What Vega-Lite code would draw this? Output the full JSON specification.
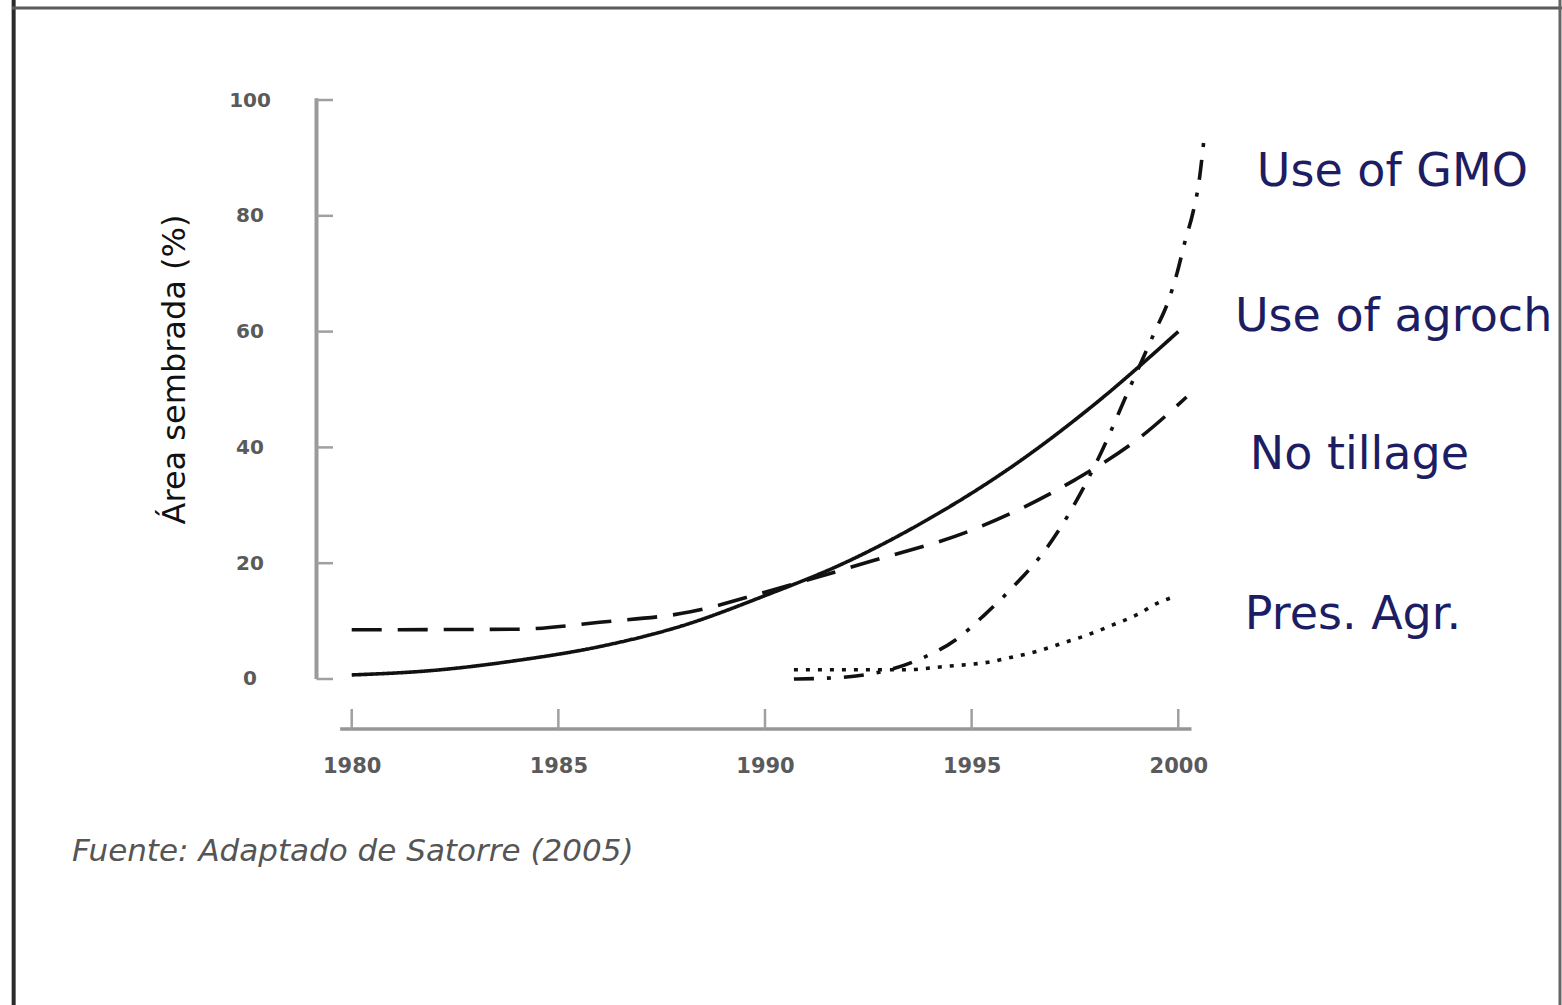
{
  "$schema": "https://vega.github.io/schema/vega-lite/v6.json",
  "width": 903.1,
  "height": 720,
  "autosize": {"type": "none"},
  "padding": {"left": 316.5, "top": 9, "right": 342.4, "bottom": 276},
  "background": "white",
  "config": {"view": {"stroke": null}},
  "datasets": {
    "curves": [
      {"series": "Use of agroch", "year": 1980, "value": 0.7},
      {"series": "Use of agroch", "year": 1982, "value": 1.5},
      {"series": "Use of agroch", "year": 1984, "value": 3.2},
      {"series": "Use of agroch", "year": 1986, "value": 5.6},
      {"series": "Use of agroch", "year": 1988, "value": 9.2},
      {"series": "Use of agroch", "year": 1990, "value": 14.4},
      {"series": "Use of agroch", "year": 1992, "value": 20.3},
      {"series": "Use of agroch", "year": 1994, "value": 27.8},
      {"series": "Use of agroch", "year": 1996, "value": 36.8},
      {"series": "Use of agroch", "year": 1998, "value": 47.6},
      {"series": "Use of agroch", "year": 2000, "value": 60.0},
      {"series": "No tillage", "year": 1980, "value": 8.5},
      {"series": "No tillage", "year": 1984, "value": 8.6},
      {"series": "No tillage", "year": 1986, "value": 9.8},
      {"series": "No tillage", "year": 1988.2, "value": 11.6},
      {"series": "No tillage", "year": 1990, "value": 15.0},
      {"series": "No tillage", "year": 1992.5, "value": 20.2},
      {"series": "No tillage", "year": 1995, "value": 25.7},
      {"series": "No tillage", "year": 1997.5, "value": 34.4},
      {"series": "No tillage", "year": 1999, "value": 41.3},
      {"series": "No tillage", "year": 2000.2, "value": 48.7},
      {"series": "Use of GMO", "year": 1990.7, "value": 0.0},
      {"series": "Use of GMO", "year": 1991.9, "value": 0.3},
      {"series": "Use of GMO", "year": 1993.7, "value": 3.3},
      {"series": "Use of GMO", "year": 1994.6, "value": 6.7},
      {"series": "Use of GMO", "year": 1995.3, "value": 11.0},
      {"series": "Use of GMO", "year": 1996.2, "value": 17.4},
      {"series": "Use of GMO", "year": 1996.6, "value": 20.6},
      {"series": "Use of GMO", "year": 1998.1, "value": 38.6},
      {"series": "Use of GMO", "year": 1998.8, "value": 49.9},
      {"series": "Use of GMO", "year": 1999.44, "value": 60.1},
      {"series": "Use of GMO", "year": 1999.75, "value": 65.1},
      {"series": "Use of GMO", "year": 1999.97, "value": 70.1},
      {"series": "Use of GMO", "year": 2000.16, "value": 75.5},
      {"series": "Use of GMO", "year": 2000.36, "value": 80.7},
      {"series": "Use of GMO", "year": 2000.5, "value": 85.8},
      {"series": "Use of GMO", "year": 2000.62, "value": 93.1},
      {"series": "Pres. Agr.", "year": 1990.7, "value": 1.6},
      {"series": "Pres. Agr.", "year": 1993.4, "value": 1.6},
      {"series": "Pres. Agr.", "year": 1994.4, "value": 2.2},
      {"series": "Pres. Agr.", "year": 1995.4, "value": 2.9},
      {"series": "Pres. Agr.", "year": 1996.0, "value": 3.8},
      {"series": "Pres. Agr.", "year": 1996.6, "value": 4.8},
      {"series": "Pres. Agr.", "year": 1997.2, "value": 6.2},
      {"series": "Pres. Agr.", "year": 1997.8, "value": 7.6},
      {"series": "Pres. Agr.", "year": 1998.4, "value": 9.3},
      {"series": "Pres. Agr.", "year": 1999.0, "value": 11.1},
      {"series": "Pres. Agr.", "year": 1999.5, "value": 13.1},
      {"series": "Pres. Agr.", "year": 1999.9, "value": 14.2}
    ],
    "labels": [
      {"label": "Use of GMO", "year": 2001.9, "value": 87.6},
      {"label": "Use of agroch", "year": 2001.37, "value": 62.6},
      {"label": "No tillage", "year": 2001.73, "value": 38.7},
      {"label": "Pres. Agr.", "year": 2001.61, "value": 11.1}
    ],
    "source": [
      {"text": "Fuente: Adaptado de Satorre (2005)", "year": 1973.23, "value": -29.9}
    ],
    "xticks": [{"year": 1980}, {"year": 1985}, {"year": 1990}, {"year": 1995}, {"year": 2000}],
    "yticks": [{"value": 0}, {"value": 20}, {"value": 40}, {"value": 60}, {"value": 80}, {"value": 100}]
  },
  "layer": [
    {
      "data": {"name": "curves"},
      "mark": {"type": "line", "interpolate": "monotone", "strokeWidth": 3.6, "color": "#111111", "strokeCap": "butt"},
      "encoding": {
        "x": {
          "field": "year", "type": "quantitative",
          "scale": {"domain": [1979.148, 2001], "nice": false, "zero": false},
          "axis": {
            "values": [1980, 1985, 1990, 1995, 2000], "format": "d",
            "domain": false, "ticks": false, "tickSize": 0, "grid": false,
            "labelFont": "DejaVu Sans", "labelFontSize": 21, "labelFontWeight": "bold", "labelColor": "#5a5a5a",
            "labelPadding": 37, "labelBaseline": "middle", "title": null
          }
        },
        "y": {
          "field": "value", "type": "quantitative",
          "scale": {"domain": [-8.636, 115.72], "nice": false, "zero": false},
          "axis": {
            "values": [0, 20, 40, 60, 80, 100],
            "domain": false, "ticks": false, "tickSize": 0, "grid": false,
            "labelFont": "DejaVu Sans", "labelFontSize": 20, "labelFontWeight": "bold", "labelColor": "#5a5a5a",
            "labelPadding": 67, "labelAlign": "center", "labelBaseline": "middle",
            "title": "Área sembrada (%)", "titleFont": "DejaVu Sans", "titleFontSize": 32,
            "titleFontWeight": "normal", "titleColor": "#111111", "titlePadding": 37
          }
        },
        "detail": {"field": "series"},
        "strokeDash": {
          "field": "series", "type": "nominal",
          "scale": {
            "domain": ["Use of agroch", "No tillage", "Use of GMO", "Pres. Agr."],
            "range": [[1, 0], [30, 16], [20, 13, 4, 13], [4, 8]]
          },
          "legend": null
        }
      }
    },
    {
      "data": {"values": [{}]},
      "mark": {"type": "rule", "color": "#9a9a9a", "strokeWidth": 4},
      "encoding": {
        "x": {"datum": 1979.148, "type": "quantitative", "scale": {"domain": [1979.148, 2001], "nice": false, "zero": false}},
        "y": {"datum": 0, "type": "quantitative", "scale": {"domain": [-8.636, 115.72], "nice": false, "zero": false}},
        "y2": {"datum": 100.3}
      }
    },
    {
      "data": {"values": [{}]},
      "mark": {"type": "rule", "color": "#969696", "strokeWidth": 3.5},
      "encoding": {
        "x": {"datum": 1979.72, "type": "quantitative", "scale": {"domain": [1979.148, 2001], "nice": false, "zero": false}},
        "x2": {"datum": 2000.32},
        "y": {"datum": -8.636, "type": "quantitative", "scale": {"domain": [-8.636, 115.72], "nice": false, "zero": false}}
      }
    },
    {
      "data": {"name": "yticks"},
      "mark": {"type": "rule", "color": "#a0a0a0", "strokeWidth": 2.5},
      "encoding": {
        "x": {"datum": 1979.148, "type": "quantitative", "scale": {"domain": [1979.148, 2001], "nice": false, "zero": false}},
        "x2": {"datum": 1979.548},
        "y": {"field": "value", "type": "quantitative", "scale": {"domain": [-8.636, 115.72], "nice": false, "zero": false}}
      }
    },
    {
      "data": {"name": "xticks"},
      "mark": {"type": "rule", "color": "#a0a0a0", "strokeWidth": 2.5},
      "encoding": {
        "x": {"field": "year", "type": "quantitative", "scale": {"domain": [1979.148, 2001], "nice": false, "zero": false}},
        "y": {"datum": -8.636, "type": "quantitative", "scale": {"domain": [-8.636, 115.72], "nice": false, "zero": false}},
        "y2": {"datum": -5.18}
      }
    },
    {
      "data": {"name": "labels"},
      "mark": {"type": "text", "align": "left", "baseline": "middle", "font": "DejaVu Sans", "fontSize": 46, "color": "#1d1d63"},
      "encoding": {
        "x": {"field": "year", "type": "quantitative", "scale": {"domain": [1979.148, 2001], "nice": false, "zero": false}},
        "y": {"field": "value", "type": "quantitative", "scale": {"domain": [-8.636, 115.72], "nice": false, "zero": false}},
        "text": {"field": "label"}
      }
    },
    {
      "data": {"name": "source"},
      "mark": {"type": "text", "align": "left", "baseline": "middle", "font": "DejaVu Sans", "fontStyle": "italic", "fontSize": 31, "color": "#555555"},
      "encoding": {
        "x": {"field": "year", "type": "quantitative", "scale": {"domain": [1979.148, 2001], "nice": false, "zero": false}},
        "y": {"field": "value", "type": "quantitative", "scale": {"domain": [-8.636, 115.72], "nice": false, "zero": false}},
        "text": {"field": "text"}
      }
    },
    {
      "data": {"values": [{}]},
      "mark": {"type": "rule", "color": "#2b2b2b", "strokeWidth": 4},
      "encoding": {
        "x": {"datum": 1971.82, "type": "quantitative", "scale": {"domain": [1979.148, 2001], "nice": false, "zero": false}},
        "y": {"datum": 117.3, "type": "quantitative", "scale": {"domain": [-8.636, 115.72], "nice": false, "zero": false}},
        "y2": {"datum": -56.3}
      }
    },
    {
      "data": {"values": [{}]},
      "mark": {"type": "rule", "color": "#5a5a5a", "strokeWidth": 3},
      "encoding": {
        "x": {"datum": 1971.78, "type": "quantitative", "scale": {"domain": [1979.148, 2001], "nice": false, "zero": false}},
        "x2": {"datum": 2009.5},
        "y": {"datum": 115.89, "type": "quantitative", "scale": {"domain": [-8.636, 115.72], "nice": false, "zero": false}}
      }
    },
    {
      "data": {"values": [{}]},
      "mark": {"type": "rule", "color": "#666666", "strokeWidth": 3},
      "encoding": {
        "x": {"datum": 2009.236, "type": "quantitative", "scale": {"domain": [1979.148, 2001], "nice": false, "zero": false}},
        "y": {"datum": 117.3, "type": "quantitative", "scale": {"domain": [-8.636, 115.72], "nice": false, "zero": false}},
        "y2": {"datum": -56.3}
      }
    }
  ]
}
